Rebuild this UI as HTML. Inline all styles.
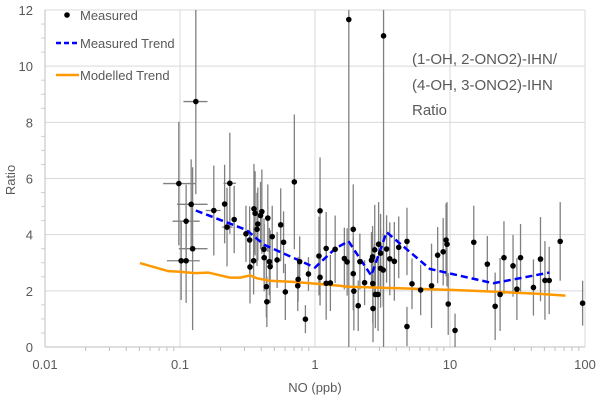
<!DOCTYPE html>
<html><head><meta charset="utf-8"><style>
body{margin:0;background:#fff;}
svg{display:block;font-family:"Liberation Sans",Arial,sans-serif;}
</style></head><body>
<svg id="chart" width="600" height="400"></svg>
<script>
const xTicks=[0.01,0.1,1,10,100];
const xTickLabels=["0.01","0.1","1","10","100"];
const yTicks=[0,2,4,6,8,10,12];
const measX=[0.098,0.121,0.111,0.124,0.102,0.111,0.131,0.178,0.214,0.234,0.223,0.252,0.308,0.328,0.33,0.351,0.353,0.36,0.377,0.372,0.404,0.395,0.447,0.419,0.42,0.459,0.465,0.482,0.436,0.44,0.524,0.557,0.585,0.603,0.703,0.77,0.75,0.745,0.894,0.849,1.09,1.07,1.09,1.21,1.21,1.30,1.41,1.65,1.73,1.78,1.92,1.92,1.94,2.09,2.15,2.33,2.62,2.67,2.68,2.69,2.8,2.93,2.77,2.96,3.06,3.06,3.2,3.22,3.39,3.58,3.87,4.17,4.8,4.8,5.23,6.06,7.3,8.1,8.9,9.35,9.5,9.7,10.9,15.0,18.9,21.6,23.5,25.1,29.3,31.3,33.3,41.5,46.8,50.5,54.3,65.5,96];
const measY=[5.82,5.08,4.48,3.5,3.07,3.07,8.74,4.86,5.09,5.83,4.27,4.54,4.03,3.81,2.85,3.07,4.92,4.76,4.38,4.19,4.82,4.68,4.59,3.48,3.18,3.04,2.86,3.93,2.15,1.61,3.10,4.35,3.73,1.96,5.88,3.04,2.41,2.18,2.6,0.99,4.85,3.24,2.48,3.51,2.27,2.28,3.48,3.15,3.03,11.66,4.19,2.61,1.99,1.47,3.04,2.29,3.09,3.21,2.26,1.37,1.87,1.87,3.46,3.66,3.34,2.80,2.74,11.08,3.49,3.14,3.05,3.55,3.76,0.73,2.25,2.03,2.18,3.27,3.39,3.81,3.66,1.53,0.59,3.73,2.95,1.45,1.87,3.18,2.89,2.06,3.18,2.12,3.13,2.37,2.37,3.76,1.56];
const measErr=[2.2,1.6,1.3,2.9,1.4,1.5,3.3,1.6,1.4,1.8,1.4,1.2,1.0,1.2,1.3,1.2,1.6,1.5,1.3,1.3,1.5,1.2,1.2,1.1,1.2,1.2,1.3,1.1,1.1,0.9,1.0,1.3,1.1,1.0,2.4,0.9,0.8,0.9,0.6,0.5,1.9,1.4,1.0,1.3,1.3,1.0,1.2,1.1,1.2,11.7,1.6,1.3,1.4,0.9,1.0,0.8,1.0,1.1,1.4,1.2,1.2,1.3,1.6,1.5,1.4,1.4,1.3,12,1.2,1.3,1.4,1.1,1.2,0.7,0.9,0.9,1.5,1.0,1.2,1.3,1.5,1.1,0.6,1.3,1.0,1.2,1.3,1.3,1.1,1.1,1.2,1.0,1.5,1.4,1.2,1.4,0.8];
const xErrX=[0.098,0.121,0.111,0.124,0.102,0.131,0.178,0.223,0.234];
const xErrLo=[0.075,0.095,0.088,0.098,0.08,0.106,0.155,0.205,0.21];
const xErrHi=[0.13,0.16,0.14,0.16,0.14,0.16,0.2,0.245,0.26];
const xErrY=[5.82,5.08,4.48,3.5,3.07,8.74,4.86,4.27,5.83];
const mtX=[0.131,0.31,0.42,1.0,1.41,1.77,2.61,3.39,7.1,20.9,54.5];
const mtY=[4.86,4.17,3.64,2.83,3.5,3.77,2.54,4.09,2.78,2.27,2.65];
const moX=[0.0505,0.082,0.1,0.129,0.162,0.234,0.28,0.33,0.37,0.46,0.69,0.97,1.53,1.71,4.2,10.6,20.9,46.4,71.7];
const moY=[2.99,2.70,2.68,2.63,2.65,2.47,2.47,2.55,2.45,2.36,2.32,2.26,2.18,2.15,2.09,2.03,1.97,1.89,1.83];

const NS="http://www.w3.org/2000/svg";
const svg=document.getElementById('chart');
const L=45,R=585,T=10,B=347;
const sx=v=>L+(Math.log10(v)+2)/4*(R-L);
const sy=v=>B-v/12*(B-T);
function el(tag,attrs,parent){const e=document.createElementNS(NS,tag);for(const k in attrs)e.setAttribute(k,attrs[k]);(parent||svg).appendChild(e);return e;}
function cy(v){return Math.max(T,Math.min(B,sy(v)));}

const grid=el('g',{});


yTicks.forEach(t=>{const l=el('line',{x1:L,x2:R,y1:sy(t),y2:sy(t),stroke:'#d9d9d9','stroke-width':1},grid);


const tx=el('text',{x:L-12,y:sy(t)+5,'text-anchor':'end','font-size':13,fill:'#595959'});tx.textContent=t;

});
xTicks.forEach((t,i)=>{if(i>0){const l=el('line',{x1:sx(t),x2:sx(t),y1:T,y2:B,stroke:'#d9d9d9','stroke-width':1},grid);

}
const tx=el('text',{x:sx(t),y:B+22,'text-anchor':'middle','font-size':13,fill:'#595959'});tx.textContent=xTickLabels[i];


if(i<4){for(let k=2;k<10;k++){const m=el('line',{x1:sx(t*k),x2:sx(t*k),y1:B,y2:B+4,stroke:'#bfbfbf'});

}}});
for(let v=0.5;v<12;v+=0.5){if(v%2!==0){const m=el('line',{x1:L-4,x2:L,y1:sy(v),y2:sy(v),stroke:'#d0d0d0'});

}}
const ax=el('line',{x1:L,x2:L,y1:T,y2:B,stroke:'#bfbfbf'});


const bx=el('line',{x1:L,x2:R,y1:B,y2:B,stroke:'#bfbfbf'});



// error bars
measX.forEach((x,i)=>{const l=el('line',{x1:sx(x),x2:sx(x),y1:cy(measY[i]+measErr[i]),y2:cy(measY[i]-measErr[i]),stroke:'#808080','stroke-width':1.3});

});
xErrX.forEach((x,i)=>{const l=el('line',{x1:sx(xErrLo[i]),x2:sx(xErrHi[i]),y1:sy(xErrY[i]),y2:sy(xErrY[i]),stroke:'#808080','stroke-width':1.3});

});
// modelled
const mo=el('polyline',{points:moX.map((x,i)=>sx(x)+','+sy(moY[i])).join(' '),fill:'none',stroke:'#ff9900','stroke-width':2.5});


const mt=el('polyline',{points:mtX.map((x,i)=>sx(x)+','+sy(mtY[i])).join(' '),fill:'none',stroke:'#0000ff','stroke-width':2.5,'stroke-dasharray':'7,4'});


measX.forEach((x,i)=>{const c=el('circle',{cx:sx(x),cy:sy(measY[i]),r:2.8,fill:'#000'});

});

function txt(s,x,y,attrs,name){const t=el('text',Object.assign({x:x,y:y,fill:'#595959','font-size':13},attrs||{}));t.textContent=s;

return t;}
txt('NO (ppb)',315,392,{'text-anchor':'middle'},'x-axis-title');
txt('Ratio',15,180,{'text-anchor':'middle',transform:'rotate(-90 15 180)'},'y-axis-title');
// legend
const lg=el('g',{});


const ld=el('circle',{cx:67,cy:15,r:2.8,fill:'#000'},lg);


const l1=el('line',{x1:56,x2:79,y1:43,y2:43,stroke:'#0000ff','stroke-width':2.5,'stroke-dasharray':'5,3'},lg);


const l2=el('line',{x1:56,x2:79,y1:75,y2:75,stroke:'#ff9900','stroke-width':2.5},lg);


txt('Measured',80,20,{},'legend-measured-label');
txt('Measured Trend',80,48,{},'legend-measured-trend-label');
txt('Modelled Trend',80,80,{},'legend-modelled-trend-label');
txt('(1-OH, 2-ONO2)-IHN/',412,64,{'font-size':15},'annotation-line-1');
txt('(4-OH, 3-ONO2)-IHN',412,90,{'font-size':15},'annotation-line-2');
txt('Ratio',412,115,{'font-size':15},'annotation-line-3');
</script>
</body></html>
